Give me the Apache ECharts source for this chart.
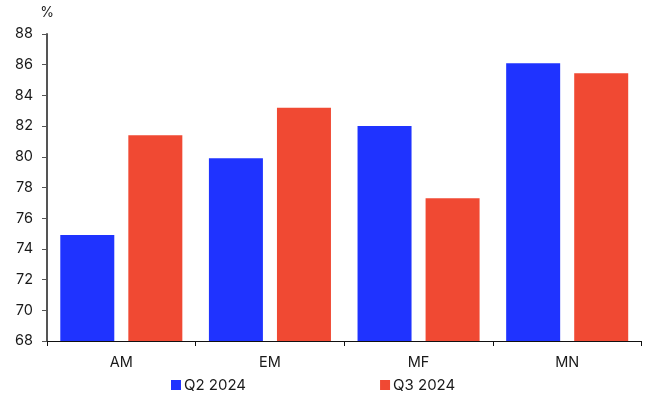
<!DOCTYPE html>
<html>
<head>
<meta charset="utf-8">
<script src="https://cdn.jsdelivr.net/npm/echarts@6/dist/echarts.min.js"></script>
<style>html,body{margin:0;padding:0;background:#fff}#c{width:646px;height:394px}</style>
</head>
<body>
<div id="c"></div>
<script>
const categories = ['AM', 'EM', 'MF', 'MN'];
const q2_2024 = [74.9, 79.9, 82.0, 86.1];
const q3_2024 = [81.4, 83.2, 77.3, 85.45];
const seriesNames = ['Q2 2024', 'Q3 2024'];
const yTicks = { min: 68, max: 88, interval: 2 };

const FONT = 'Inter';
const chart = echarts.init(document.getElementById('c'), null, { renderer: 'canvas' });
chart.setOption({
  animation: false,
  textStyle: { fontFamily: FONT },
  grid: { left: 47, right: 4.5, top: 34, bottom: 53, containLabel: false },
  legend: {
    left: 171, top: 377,
    itemWidth: 10, itemHeight: 10, itemGap: 134,
    icon: 'rect',
    padding: 0,
    textStyle: { fontFamily: FONT, fontSize: 15, color: '#1a1a1a', padding: [0, 0, 0, -2], lineHeight: 16 },
    data: seriesNames
  },
  xAxis: {
    type: 'category',
    data: categories,
    boundaryGap: true,
    axisLine: { lineStyle: { color: '#111', width: 1.2 } },
    axisTick: { show: true, length: 5, lineStyle: { color: '#111' } },
    axisLabel: { fontFamily: FONT, fontSize: 14.5, color: '#1a1a1a', margin: 14 }
  },
  yAxis: {
    type: 'value',
    min: yTicks.min, max: yTicks.max, interval: yTicks.interval,
    name: '%',
    nameLocation: 'end',
    nameGap: 14,
    nameTextStyle: { fontFamily: FONT, fontSize: 14, color: '#1a1a1a', align: 'center' },
    axisLine: { show: true, lineStyle: { color: '#555', width: 2 } },
    axisTick: { show: true, length: 5, lineStyle: { color: '#555' } },
    splitLine: { show: false },
    axisLabel: { fontFamily: FONT, fontSize: 14.5, color: '#1a1a1a', margin: 14 }
  },
  series: [
    { name: seriesNames[0], type: 'bar', data: q2_2024, barWidth: 54, barGap: '26%',
      itemStyle: { color: '#1f33ff' } },
    { name: seriesNames[1], type: 'bar', data: q3_2024, barWidth: 54,
      itemStyle: { color: '#f04933' } }
  ]
});
</script>
</body>
</html>
